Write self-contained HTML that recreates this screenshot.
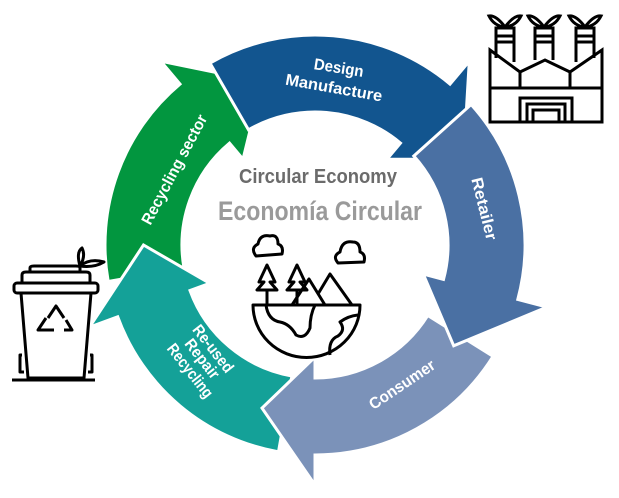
<!DOCTYPE html>
<html><head><meta charset="utf-8"><style>
html,body{margin:0;padding:0;background:#fff;width:619px;height:498px;overflow:hidden}
svg{display:block}
text{font-family:"Liberation Sans",sans-serif;font-weight:bold}
</style></head><body>
<svg id="s" width="619" height="498" viewBox="0 0 619 498" xmlns="http://www.w3.org/2000/svg">
<g id="ring"></g>
<text x="318" y="183" text-anchor="middle" font-size="20" fill="#6b6b6b" textLength="158" lengthAdjust="spacingAndGlyphs">Circular Economy</text>
<text x="320" y="220" text-anchor="middle" font-size="27" fill="#9a9a9a" textLength="204" lengthAdjust="spacingAndGlyphs">Economía Circular</text>
<g fill="#fff" font-size="16" text-anchor="middle">
<text transform="translate(338,73) rotate(9)" textLength="50" lengthAdjust="spacingAndGlyphs">Design</text>
<text transform="translate(333,93) rotate(10)" textLength="98" lengthAdjust="spacingAndGlyphs">Manufacture</text>
<text transform="translate(479,210) rotate(76)" textLength="64" lengthAdjust="spacingAndGlyphs">Retailer</text>
<text transform="translate(405,389) rotate(-34)" textLength="76" lengthAdjust="spacingAndGlyphs">Consumer</text>
<text transform="translate(209,352) rotate(52)" textLength="56" lengthAdjust="spacingAndGlyphs">Re-used</text>
<text transform="translate(198,362) rotate(52)" textLength="46" lengthAdjust="spacingAndGlyphs">Repair</text>
<text transform="translate(186,374) rotate(52)" textLength="64" lengthAdjust="spacingAndGlyphs">Recycling</text>
<text transform="translate(179,172) rotate(-62)" textLength="122" lengthAdjust="spacingAndGlyphs">Recycling sector</text>
</g>
<!-- factory -->
<g fill="none" stroke="#000" stroke-width="3">
<path d="M490,50 L520,72 L545,60 L570,72 L602,50 L602,122 L490,122 Z"/>
<line x1="490" y1="88" x2="602" y2="88"/>
<line x1="520" y1="72" x2="520" y2="88"/><line x1="570" y1="72" x2="570" y2="88"/>
<rect x="520" y="98" width="52" height="24"/><rect x="527" y="104" width="38" height="18"/><rect x="533" y="110" width="26" height="12"/>
<path d="M496,58 V28 H514 V62 M496,36 H514 M496,42 H514"/>
<path d="M535,60 V28 H553 V60 M535,36 H553 M535,42 H553"/>
<path d="M576,62 V28 H594 V58 M576,36 H594 M576,42 H594"/>
<path d="M505,27 Q496,15 489,16 Q494,26 505,27 Q514,15 521,16 Q516,26 505,27"/>
<path d="M544,27 Q535,15 528,16 Q533,26 544,27 Q553,15 560,16 Q555,26 544,27"/>
<path d="M585,27 Q576,15 569,16 Q574,26 585,27 Q594,15 601,16 Q596,26 585,27"/>
</g>
<!-- bin -->
<g fill="none" stroke="#000" stroke-width="3" stroke-linejoin="round">
<rect x="14" y="283" width="84" height="10" rx="3"/>
<path d="M22,283 V275 Q22,272 26,272 H86 Q90,272 90,275 V283"/>
<path d="M30,272 V268 Q30,266 34,266 H76 Q80,266 80,268 V272"/>
<path d="M21,293 L28,378 H84 L91,293"/>
<path d="M22,355 H20 V372 H24 M90,355 H92 V372 H88"/>
<line x1="12" y1="380" x2="95" y2="380"/>
<path d="M80,266 Q76,252 82,248 Q86,256 80,266 Q90,258 104,262 Q94,268 80,266"/>
<path d="M48,318 L56,306 L64,318 M54,330 H38 L46,318 M64,330 H72 L66,320"/>
</g>
<!-- earth -->
<g fill="none" stroke="#000" stroke-width="3" stroke-linejoin="round">
<path d="M253,305 H360 A53,52 0 0 1 253,305 Z"/>
<path d="M266,305 Q268,320 280,322 Q290,324 296,335 Q305,340 310,328 Q310,315 315,305"/>
<path d="M330,355 Q328,340 338,336 Q346,330 340,322 Q348,316 358,315"/>
<path d="M292,305 L309,279 L325,305 M318,294 L330,274 L352,305"/>
<path d="M267,305 V290 M257,290 H277 L270,282 H275 L267,265 L259,282 H264 Z"/>
<path d="M297,305 V290 M287,290 H307 L300,282 H305 L297,265 L289,282 H294 Z"/>
<path d="M256,256 Q250,248 258,244 Q260,234 270,236 Q278,234 278,244 Q284,246 282,254 Z"/>
<path d="M338,263 Q332,256 340,252 Q342,240 353,242 Q360,242 360,252 Q366,254 364,262 Z"/>
</g>
</svg>
<script>
var cx=315,cy=245,ri=133,ro=210,hi=112,ho=240;
function P(r,a){a=a*Math.PI/180;return (cx+r*Math.sin(a)).toFixed(1)+","+(cy-r*Math.cos(a)).toFixed(1);}
function seg(s,e,t,c){
 var big=(e-s)>180?1:0;
 var d="M"+P(ro,s)+" A"+ro+","+ro+" 0 "+big+" 1 "+P(ro,e)+" L"+P(ho,e)+" L"+P((ri+ro)/2,t)+" L"+P(hi,e)+" L"+P(ri,e)+" A"+ri+","+ri+" 0 "+big+" 0 "+P(ri,s)+" Z";
 return '<path d="'+d+'" fill="'+c+'" stroke="#fff" stroke-width="3" stroke-linejoin="miter"/>';
}
var h="";
h+=seg(260,320,342,"#02963f");
h+=seg(190,250,270,"#14a198");
h+=seg(122,180,198,"#7b92b9");
h+=seg(-30,40,60,"#12558f");
h+=seg(48,105,126,"#4a70a3");
document.getElementById("ring").innerHTML=h;
</script>
</body></html>
